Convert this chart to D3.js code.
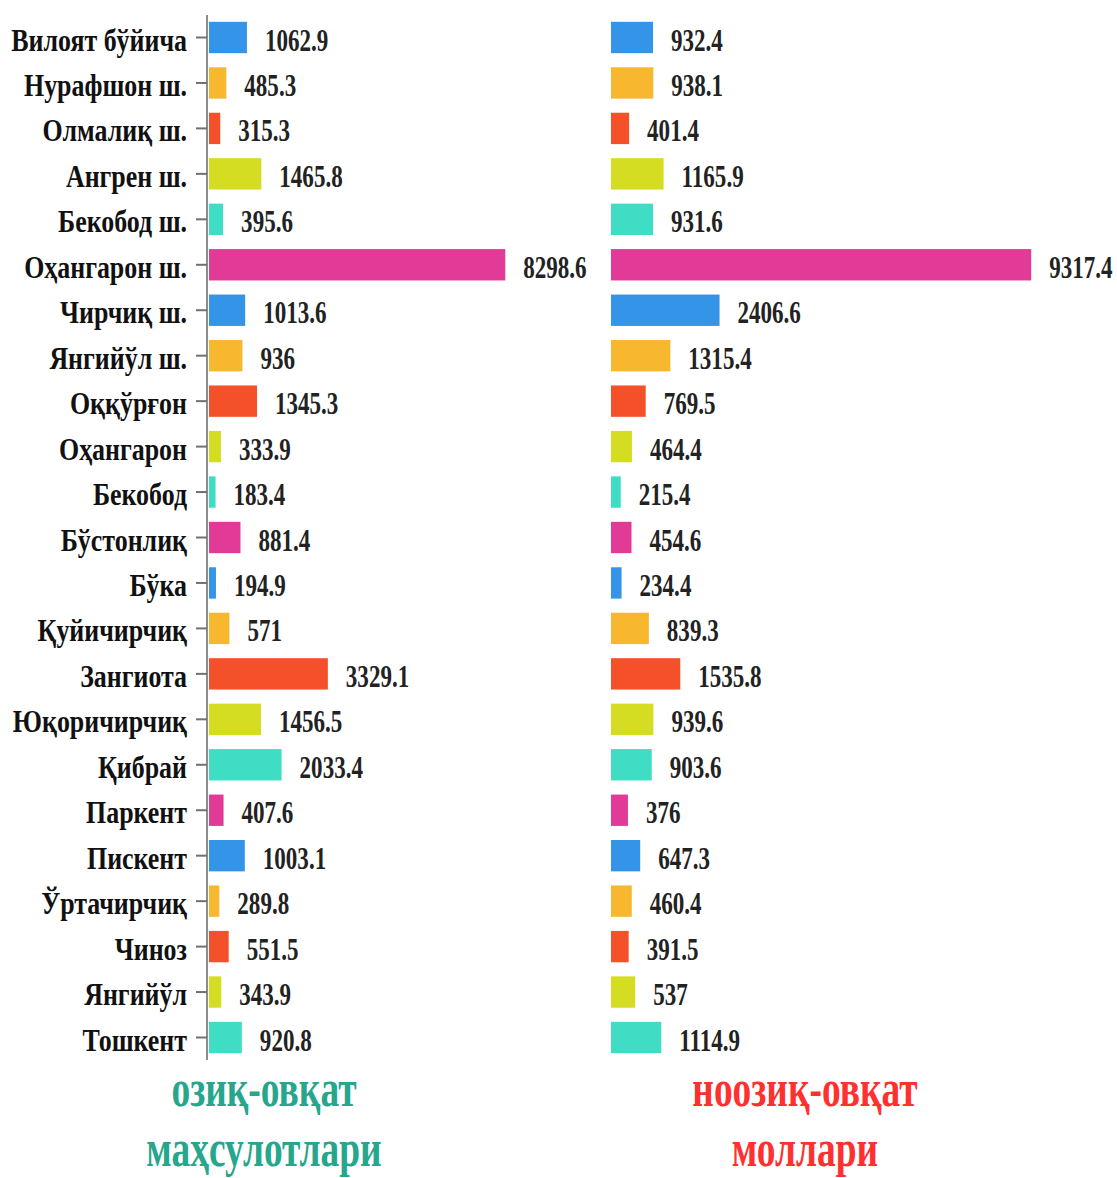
<!DOCTYPE html>
<html>
<head>
<meta charset="utf-8">
<script src="https://cdn.jsdelivr.net/npm/d3@7"></script>
<style>
  html, body { margin: 0; padding: 0; background: #fff; }
  svg { display: block; }
  text { font-family: "Liberation Serif", "Times New Roman", serif; font-weight: bold; }
</style>
</head>
<body>
<svg id="chart" width="1117" height="1178"></svg>
<script>
const categories = ["Вилоят бўйича","Нурафшон ш.","Олмалиқ ш.","Ангрен ш.","Бекобод ш.","Оҳангарон ш.","Чирчиқ ш.","Янгийўл ш.","Оққўрғон","Оҳангарон","Бекобод","Бўстонлиқ","Бўка","Қуйичирчиқ","Зангиота","Юқоричирчиқ","Қибрай","Паркент","Пискент","Ўртачирчиқ","Чиноз","Янгийўл","Тошкент"];
const foodValues = [1062.9,485.3,315.3,1465.8,395.6,8298.6,1013.6,936,1345.3,333.9,183.4,881.4,194.9,571,3329.1,1456.5,2033.4,407.6,1003.1,289.8,551.5,343.9,920.8];
const nonFoodValues = [932.4,938.1,401.4,1165.9,931.6,9317.4,2406.6,1315.4,769.5,464.4,215.4,454.6,234.4,839.3,1535.8,939.6,903.6,376,647.3,460.4,391.5,537,1114.9];
const palette = ["#3394e8","#f7b72e","#f4502a","#d5dd22","#3fddc4","#e23a97"];
const foodTitle = ["озиқ-овқат","маҳсулотлари"];
const nonFoodTitle = ["ноозиқ-овқат","моллари"];

const svg = d3.select("#chart");
const SX = 0.72;
const SXL = 0.81;

const y = d3.scaleBand().domain(categories).range([15, 1060]).paddingInner(0.31).paddingOuter(0.15);
const xL = d3.scaleLinear().domain([0, 9000]).range([209, 530.3]);
const xR = d3.scaleLinear().domain([0, 10000]).range([611, 1062]);
const color = (i) => palette[i % palette.length];

// Left axis
const axisG = svg.append("g").attr("transform", "translate(207,0)");
axisG.append("line").attr("x1",0).attr("x2",0).attr("y1",15).attr("y2",1060)
  .attr("stroke","#8c8c8c").attr("stroke-width",2);
axisG.selectAll("line.tick").data(categories).join("line").attr("class","tick")
  .attr("x1",-11).attr("x2",0)
  .attr("y1", d => y(d) + y.bandwidth()/2).attr("y2", d => y(d) + y.bandwidth()/2)
  .attr("stroke","#707070").attr("stroke-width",2);
svg.append("g").selectAll("text").data(categories).join("text")
  .attr("transform", d => `translate(187,${y(d) + y.bandwidth()/2 + 13}) scale(${SXL},1)`)
  .attr("text-anchor","end").attr("font-size",32).attr("fill","#111")
  .text(d => d);

// Left bars
svg.append("g").selectAll("rect").data(foodValues).join("rect")
  .attr("x", xL(0)).attr("y", (d,i) => y(categories[i]))
  .attr("width", d => xL(d) - xL(0)).attr("height", y.bandwidth())
  .attr("fill", (d,i) => color(i));
svg.append("g").selectAll("text").data(foodValues).join("text")
  .attr("transform", (d,i) => `translate(${xL(d) + 18},${y(categories[i]) + y.bandwidth()/2 + 13}) scale(${SX},1)`)
  .attr("font-size",32).attr("fill","#222")
  .text(d => d);

// Right bars
svg.append("g").selectAll("rect").data(nonFoodValues).join("rect")
  .attr("x", xR(0)).attr("y", (d,i) => y(categories[i]))
  .attr("width", d => xR(d) - xR(0)).attr("height", y.bandwidth())
  .attr("fill", (d,i) => color(i));
svg.append("g").selectAll("text").data(nonFoodValues).join("text")
  .attr("transform", (d,i) => `translate(${xR(d) + 18},${y(categories[i]) + y.bandwidth()/2 + 13}) scale(${SX},1)`)
  .attr("font-size",32).attr("fill","#222")
  .text(d => d);

// Titles
const titleY = [1106, 1166];
svg.append("g").selectAll("text").data(foodTitle).join("text")
  .attr("transform", (d,i) => `translate(264,${titleY[i]}) scale(${SX},1)`)
  .attr("text-anchor","middle").attr("font-size",52).attr("fill","#26a68c")
  .text(d => d);
svg.append("g").selectAll("text").data(nonFoodTitle).join("text")
  .attr("transform", (d,i) => `translate(805,${titleY[i]}) scale(${SX},1)`)
  .attr("text-anchor","middle").attr("font-size",52).attr("fill","#ff3030")
  .text(d => d);
</script>
</body>
</html>
